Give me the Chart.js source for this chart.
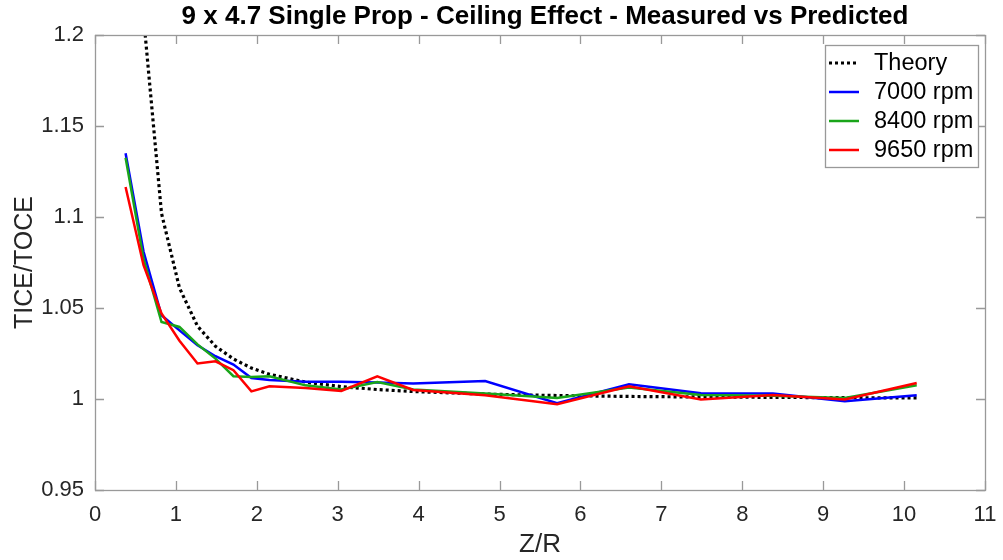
<!DOCTYPE html>
<html>
<head>
<meta charset="utf-8">
<title>Ceiling Effect</title>
<script src="https://cdn.jsdelivr.net/npm/chart.js@4/dist/chart.umd.min.js"></script>
<style>
  html, body { margin: 0; padding: 0; background: #fff; }
  #wrap { width: 1003px; height: 560px; }
</style>
</head>
<body>
<div id="wrap"><canvas id="graph"></canvas></div>
<script>
// Z/R positions of the measurements (Z = 1.7 ... 45.7 in, R = 4.5 in)
const zOverR = [0.378, 0.6, 0.822, 1.044, 1.267, 1.489, 1.711, 1.933, 2.156, 2.6,
  3.044, 3.489, 3.933, 4.822, 5.711, 6.6, 7.489, 8.378, 9.267, 10.156];

// Predicted thrust ratio (starts at the second station)
const theory = [null, 1.210, 1.102, 1.061, 1.040, 1.029, 1.022, 1.017, 1.0136, 1.0093,
  1.0068, 1.0052, 1.0041, 1.0027, 1.0019, 1.0014, 1.0011, 1.0009, 1.0007, 1.0006];

// Measured TICE/TOCE
const rpm7000 = [1.135, 1.081, 1.046, 1.0377, 1.0295, 1.0235, 1.0189, 1.0115, 1.0105, 1.0095,
  1.0095, 1.009, 1.0085, 1.0099, 0.9977, 1.0081, 1.0032, 1.003, 0.9988, 1.002];
const rpm8400 = [1.1326, 1.077, 1.0423, 1.0396, 1.030, 1.0222, 1.0125, 1.0121, 1.0125, 1.0075,
  1.0052, 1.0093, 1.0052, 1.003, 1.0005, 1.0063, 1.0022, 1.0018, 1.0005, 1.0075];
const rpm9650 = [1.1165, 1.0735, 1.047, 1.032, 1.0195, 1.0207, 1.0158, 1.0042, 1.007, 1.006,
  1.0044, 1.0125, 1.005, 1.002, 0.9971, 1.007, 0.9997, 1.0022, 0.9997, 1.0088];

const xTicks = [0, 1, 2, 3, 4, 5, 6, 7, 8, 9, 10, 11];
const yTicks = [0.95, 1, 1.05, 1.1, 1.15, 1.2];

const TEXT = '#262626';
const FRAME = '#999999';
const FONT = "'Liberation Sans', Arial, sans-serif";

function toPoints(values) {
  return zOverR.map((x, i) => ({ x: x, y: values[i] }));
}

// Box round the axes with inward ticks, title and boxed legend
const matlabAxes = {
  id: 'matlabAxes',
  afterDatasetsDraw(chart) {
    const ctx = chart.ctx;
    const a = chart.chartArea;
    const xs = chart.scales.x;
    const ys = chart.scales.y;
    const tick = 9;
    ctx.save();
    ctx.strokeStyle = FRAME;
    ctx.lineWidth = 1.3;
    ctx.strokeRect(Math.round(a.left) + 0.5, Math.round(a.top) + 0.5,
      Math.round(a.right - a.left), Math.round(a.bottom - a.top));
    ctx.beginPath();
    xTicks.forEach(v => {
      const px = Math.round(xs.getPixelForValue(v)) + 0.5;
      ctx.moveTo(px, a.bottom); ctx.lineTo(px, a.bottom - tick);
      ctx.moveTo(px, a.top); ctx.lineTo(px, a.top + tick);
    });
    yTicks.forEach(v => {
      const py = Math.round(ys.getPixelForValue(v)) + 0.5;
      ctx.moveTo(a.left, py); ctx.lineTo(a.left + tick, py);
      ctx.moveTo(a.right, py); ctx.lineTo(a.right - tick, py);
    });
    ctx.stroke();

    // title
    ctx.fillStyle = '#000';
    ctx.font = 'bold 26px ' + FONT;
    ctx.textAlign = 'center';
    ctx.textBaseline = 'middle';
    ctx.fillText('9 x 4.7 Single Prop - Ceiling Effect - Measured vs Predicted',
      (a.left + a.right) / 2 + 5, 17);

    // legend
    const sets = chart.data.datasets;
    const lx = 825, ly = 45, lw = 153, lh = 122;
    ctx.fillStyle = '#fff';
    ctx.fillRect(lx, ly, lw, lh);
    ctx.lineWidth = 1.3;
    ctx.strokeStyle = FRAME;
    ctx.strokeRect(lx + 0.5, ly + 0.5, lw, lh);
    ctx.font = '23.5px ' + FONT;
    ctx.textAlign = 'left';
    sets.forEach((ds, i) => {
      const yy = ly + 18 + i * 29;
      ctx.beginPath();
      ctx.strokeStyle = ds.borderColor;
      ctx.lineWidth = ds.borderWidth;
      ctx.setLineDash(ds.borderDash || []);
      ctx.moveTo(lx + 4, yy);
      ctx.lineTo(lx + 34, yy);
      ctx.stroke();
      ctx.setLineDash([]);
      ctx.fillStyle = '#000';
      ctx.fillText(ds.label, lx + 49, yy + 1);
    });
    ctx.restore();
  }
};

const chart = new Chart(document.getElementById('graph'), {
  type: 'line',
  data: {
    datasets: [
      { label: 'Theory', data: toPoints(theory), borderColor: '#000000', borderWidth: 3.2,
        borderDash: [3, 3], order: 3 },
      { label: '7000 rpm', data: toPoints(rpm7000), borderColor: '#0000ff', borderWidth: 2.5, order: 2 },
      { label: '8400 rpm', data: toPoints(rpm8400), borderColor: '#1aa51a', borderWidth: 2.5, order: 1 },
      { label: '9650 rpm', data: toPoints(rpm9650), borderColor: '#ff0000', borderWidth: 2.5, order: 0 }
    ]
  },
  options: {
    responsive: true,
    maintainAspectRatio: false,
    animation: false,
    spanGaps: false,
    elements: { point: { radius: 0 }, line: { tension: 0 } },
    layout: { padding: { top: 35, right: 18, left: 0, bottom: 0 } },
    plugins: { legend: { display: false }, tooltip: { enabled: false } },
    scales: {
      x: {
        type: 'linear', min: 0, max: 11,
        afterFit: s => { s.height = 70; },
        afterBuildTicks: s => { s.ticks = xTicks.map(v => ({ value: v })); },
        grid: { display: false },
        border: { display: false },
        ticks: { color: TEXT, font: { size: 22, family: FONT }, padding: 4, maxRotation: 0 },
        title: { display: true, text: 'Z/R', color: TEXT, font: { size: 26, family: FONT },
          padding: { top: 0, bottom: 0 } }
      },
      y: {
        type: 'linear', min: 0.95, max: 1.2,
        afterFit: s => { s.width = 95; },
        afterBuildTicks: s => { s.ticks = yTicks.map(v => ({ value: v })); },
        grid: { display: false },
        border: { display: false },
        ticks: { color: TEXT, font: { size: 22, family: FONT }, padding: 3,
          callback: v => String(+v.toFixed(2)) },
        title: { display: true, text: 'TICE/TOCE', color: TEXT, font: { size: 25, family: FONT },
          padding: { top: 10, bottom: 0 } }
      }
    }
  },
  plugins: [matlabAxes]
});
</script>
</body>
</html>
